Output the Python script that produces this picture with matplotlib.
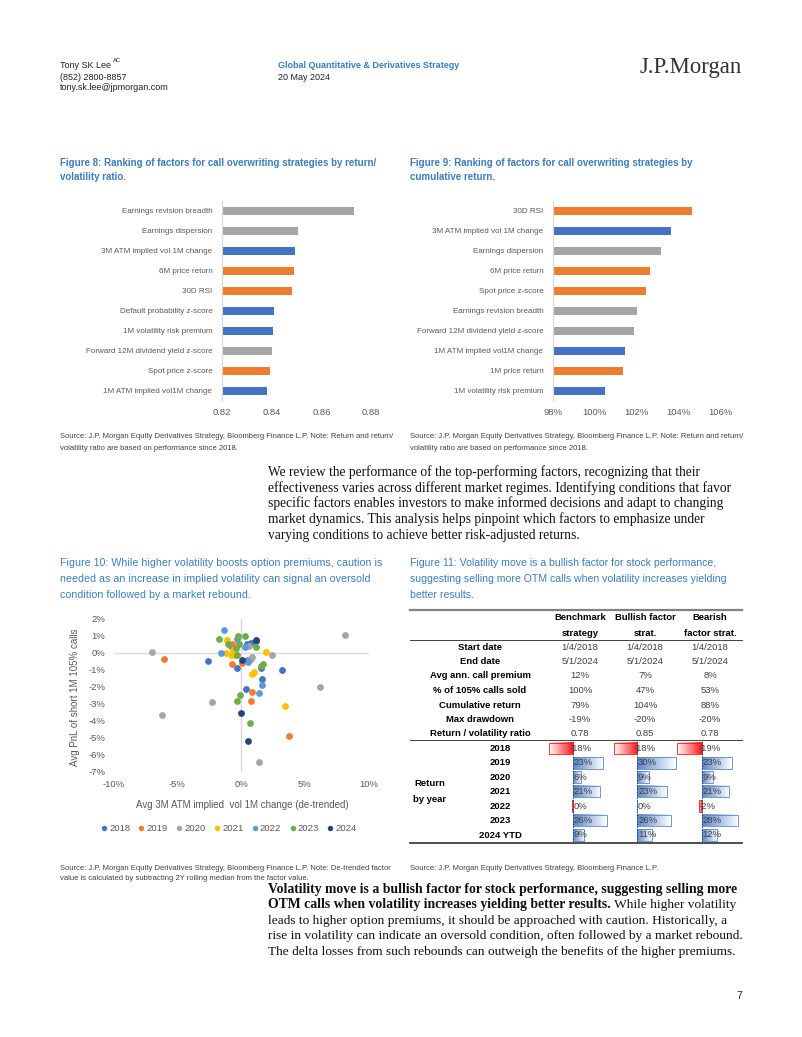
import numpy as np
import matplotlib
matplotlib.use("Agg")
import matplotlib.pyplot as plt
from matplotlib.colors import LinearSegmentedColormap
from matplotlib.patches import Rectangle

W, H = 802, 1037

SANS = ["Liberation Sans", "DejaVu Sans"]
SERIF = ["Liberation Serif", "DejaVu Serif"]

TITLE_BLUE = "#3d7dbd"
TICK_GREY = "#595959"
GROUP_COLORS = {"fundamental": "#a5a5a5", "volatility": "#4472c4", "price": "#ed7d31"}

# Figure 8: return / volatility ratio (top to bottom)
f8_labels = ["Earnings revision breadth", "Earnings dispersion", "3M ATM implied vol 1M change",
             "6M price return", "30D RSI", "Default probability z-score",
             "1M volatility risk premium", "Forward 12M dividend yield z-score",
             "Spot price z-score", "1M ATM implied vol1M change"]
f8_groups = ["fundamental", "fundamental", "volatility", "price", "price", "volatility",
             "volatility", "fundamental", "price", "volatility"]
f8_values = [0.8732, 0.8505, 0.8495, 0.8489, 0.8480, 0.8411, 0.8407, 0.8400, 0.8393, 0.8383]

# Figure 9: cumulative return, % (top to bottom)
f9_labels = ["30D RSI", "3M ATM implied vol 1M change", "Earnings dispersion", "6M price return",
             "Spot price z-score", "Earnings revision breadth", "Forward 12M dividend yield z-score",
             "1M ATM implied vol1M change", "1M price return", "1M volatility risk premium"]
f9_groups = ["price", "volatility", "fundamental", "price", "price", "fundamental",
             "fundamental", "volatility", "price", "volatility"]
f9_values = [104.66, 103.63, 103.17, 102.66, 102.45, 102.02, 101.90, 101.43, 101.36, 100.50]

# Figure 10: scatter, x = vol change (%), y = avg PnL (%)
scatter_years = ["2018", "2019", "2020", "2021", "2022", "2023", "2024"]
scatter_colors = ["#4472c4", "#ed7d31", "#a5a5a5", "#ffc000", "#5b9bd5", "#70ad47", "#264478"]
x2018 = [-2.56, -0.29, 1.57, 3.19, 1.62, 0.39, 1.2, 0.8, -0.8, 0.5]
y2018 = [-0.49, -0.86, -0.86, -0.98, -1.51, -2.14, 0.7, 0.6, 0.4, 0.5]
x2019 = [-6.02, -0.68, 0.05, 0.84, 0.78, 3.79, -0.7, -0.5]
y2019 = [-0.33, -0.67, -0.6, -2.3, -2.85, -4.88, 0.55, -0.1]
x2020 = [-6.98, 8.13, 2.4, 6.22, -2.25, -6.2, 1.39, 0.6, 0.9, 0.75]
y2020 = [0.04, 1.06, -0.1, -1.98, -2.87, -3.67, -6.41, 0.4, -0.25, -0.35]
x2021 = [-1.12, -1.2, -0.8, -0.5, 1.93, 1.0, 0.85, 3.42, -0.6]
y2021 = [0.75, 0.0, -0.1, 0.05, 0.08, -1.1, -1.25, -3.1, 0.2]
x2022 = [-1.31, -1.6, 0.58, 1.62, 1.41, -0.3, 0.3, 0.45]
y2022 = [1.34, 0.0, -0.53, -1.9, -2.36, 0.8, 0.35, -0.4]
x2023 = [-1.73, -1.0, -0.2, 0.31, 1.18, 1.7, -0.05, -0.34, 0.7, -0.4, -0.15, -0.3, 1.6]
y2023 = [0.84, 0.5, 1.0, 0.98, 0.35, -0.63, -2.46, -2.83, -4.15, 0.3, 0.5, -0.15, -0.75]
x2024 = [1.18, 0.08, 0.0, 0.58]
y2024 = [0.75, -0.39, -3.52, -5.17]
scatter_x = [x2018, x2019, x2020, x2021, x2022, x2023, x2024]
scatter_y = [y2018, y2019, y2020, y2021, y2022, y2023, y2024]

# Figure 11: table
table_columns = [("Benchmark", "strategy"), ("Bullish factor", "strat."), ("Bearish", "factor strat.")]
row_labels = ["Start date", "End date", "Avg ann. call premium", "% of 105% calls sold",
              "Cumulative return", "Max drawdown", "Return / volatility ratio"]
bench_stats = ["1/4/2018", "5/1/2024", "12%", "100%", "79%", "-19%", "0.78"]
bull_stats = ["1/4/2018", "5/1/2024", "7%", "47%", "104%", "-20%", "0.85"]
bear_stats = ["1/4/2018", "5/1/2024", "8%", "53%", "88%", "-20%", "0.78"]
years = ["2018", "2019", "2020", "2021", "2022", "2023", "2024 YTD"]
bench_ret = [-18, 23, 6, 21, -0.3, 26, 9]
bull_ret = [-18, 30, 9, 23, 0, 26, 11]
bear_ret = [-19, 23, 9, 21, -2, 28, 12]

fig = plt.figure(figsize=(W / 100, H / 100), dpi=100)
page = fig.add_axes([0, 0, 1, 1])
page.set_xlim(0, W)
page.set_ylim(H, 0)
page.axis("off")


def px_axes(left, top, right, bottom):
    return fig.add_axes([left / W, 1 - bottom / H, (right - left) / W, (bottom - top) / H])


def put(x, y, s, size, family=SANS, color="black", **kw):
    return page.text(x, y, s, fontsize=size, family=family, color=color, va="center", **kw)


def draw_header():
    name = put(60, 66, "Tony SK Lee", 6.5, color="#222222")
    page.annotate("AC", xy=(1, 1), xycoords=name, xytext=(1.5, 0.5), textcoords="offset points",
                  ha="left", va="center", fontsize=4.3, family=SANS, color="#222222")
    put(60, 77, "(852) 2800-8857", 6.5, color="#222222")
    put(60, 88, "tony.sk.lee@jpmorgan.com", 6.5, color="#222222")
    put(278, 66, "Global Quantitative & Derivatives Strategy", 6.5, color=TITLE_BLUE,
        weight="bold")
    put(278, 77, "20 May 2024", 6.5, color="#222222")
    put(640, 67, "J.P.Morgan", 16.4, family=SERIF, color="#333333")


def draw_ranking(box, labels, values, groups, xlim, ticks, ticklabels):
    ax = px_axes(*box)
    idx = np.arange(len(values))
    ax.barh(idx, values, height=0.36, color=[GROUP_COLORS[g] for g in groups])
    ax.set_xlim(*xlim)
    ax.set_ylim(len(values) - 0.5, -0.5)
    ax.set_yticks(idx)
    ax.set_yticklabels(labels, family=SANS, fontsize=5.75, color=TICK_GREY)
    ax.set_xticks(ticks)
    ax.set_xticklabels(ticklabels, family=SANS, fontsize=6.8, color=TICK_GREY)
    ax.tick_params(length=0)
    ax.tick_params(axis="y", pad=7)
    ax.tick_params(axis="x", pad=5)
    for side in ["top", "right", "bottom"]:
        ax.spines[side].set_visible(False)
    ax.spines["left"].set_color("#d9d9d9")
    ax.patch.set_visible(False)


def draw_scatter():
    ax = px_axes(113.5, 619, 368.5, 771.7)
    ax.axhline(0, color="#d9d9d9", lw=1, zorder=1)
    ax.axvline(0, color="#d9d9d9", lw=1, zorder=1)
    for yr, xs, ys, c in zip(scatter_years, scatter_x, scatter_y, scatter_colors):
        ax.scatter(xs, ys, s=24, color=c, label=yr, zorder=3, linewidths=0)
    ax.set_xlim(-10, 10)
    ax.set_ylim(-7, 2)
    ax.set_xticks(range(-10, 11, 5))
    ax.set_xticklabels([f"{v}%" for v in range(-10, 11, 5)], family=SANS, fontsize=6.8,
                       color=TICK_GREY)
    ax.set_yticks(range(-7, 3))
    ax.set_yticklabels([f"{v}%" for v in range(-7, 3)], family=SANS, fontsize=6.8,
                       color=TICK_GREY)
    ax.tick_params(length=0, pad=6)
    for side in ax.spines:
        ax.spines[side].set_visible(False)
    ax.patch.set_visible(False)
    ax.set_xlabel("Avg 3M ATM implied  vol 1M change (de-trended)", family=SANS, fontsize=7,
                  color=TICK_GREY)
    ax.xaxis.set_label_coords(0.504, -0.185)
    ax.set_ylabel("Avg PnL of short 1M 105% calls", family=SANS, fontsize=7, color=TICK_GREY)
    ax.yaxis.set_label_coords(-0.131, 0.49)
    leg = ax.legend(loc="center", bbox_to_anchor=(0.449, -0.369), ncol=7, frameon=False,
                    handletextpad=0.05, columnspacing=0.7, handlelength=1.0,
                    prop={"family": SANS, "size": 6.8}, markerscale=0.8)
    for t in leg.get_texts():
        t.set_color(TICK_GREY)


def draw_table():
    col_x = [580, 645, 710]
    page.plot([410, 742], [610, 610], color="#808080", lw=1.6)
    page.plot([410, 742], [640, 640], color="#404040", lw=0.7)
    page.plot([410, 742], [740, 740], color="#404040", lw=0.7)
    page.plot([410, 742], [843, 843], color="#404040", lw=1.3)
    for cx, (a, b) in zip(col_x, table_columns):
        put(cx, 617, a, 6.8, weight="bold", ha="center")
        put(cx, 634, b, 6.8, weight="bold", ha="center")
    row_y = 647 + 14.5 * np.arange(len(row_labels))
    for y, lab, s1, s2, s3 in zip(row_y, row_labels, bench_stats, bull_stats, bear_stats):
        put(480, y, lab, 6.8, weight="bold", ha="center")
        for cx, s in zip(col_x, [s1, s2, s3]):
            put(cx, y, s, 6.8, ha="center", color="#404040")
    year_y = 748.3 + 14.45 * np.arange(len(years))
    for y, yr in zip(year_y, years):
        put(500, y, yr, 6.8, weight="bold", ha="center")
    put(430, 783, "Return", 6.8, weight="bold", ha="center")
    put(430, 800, "by year", 6.8, weight="bold", ha="center")

    blue_cmap = LinearSegmentedColormap.from_list("pos", ["#5a86c8", "#ffffff"])
    red_cmap = LinearSegmentedColormap.from_list("neg", ["#ffffff", "#ff1a1a"])
    grad = np.linspace(0, 1, 128).reshape(1, -1)
    zeros = [572.7, 637.3, 701.7]
    scale = 1.3  # px per %
    for z, rets in zip(zeros, [bench_ret, bull_ret, bear_ret]):
        lo, hi = -26, 36
        ax = px_axes(z + lo * scale, 741.1, z + hi * scale, 842.2)
        for i, v in enumerate(rets):
            if v >= 0:
                ax.imshow(grad, cmap=blue_cmap, extent=(0, v, i + 0.4, i - 0.4), aspect="auto",
                          zorder=1)
                ax.add_patch(Rectangle((0, i - 0.4), v, 0.8, fill=False, ec="#5a86c8", lw=0.6))
            else:
                ax.imshow(grad, cmap=red_cmap, extent=(v, 0, i + 0.4, i - 0.4), aspect="auto",
                          zorder=1)
                ax.add_patch(Rectangle((v, i - 0.4), -v, 0.8, fill=False, ec="#ff1a1a", lw=0.6))
            r = int(round(v))
            ax.annotate(f"{r}%", (0, i), xytext=(-2.5 if r < 0 else 0.5, 0),
                        textcoords="offset points", ha="left", va="center",
                        fontsize=6.8, family=SANS, color="#404040", zorder=4)
        ax.axvline(0, color="#1f3864", lw=0.7, ls=(0, (1.5, 1.5)), zorder=3)
        ax.set_xlim(lo, hi)
        ax.set_ylim(len(rets) - 0.5, -0.5)
        ax.axis("off")


def draw_text():
    # figure titles
    put(60, 163, "Figure 8: Ranking of factors for call overwriting strategies by return/", 7.0,
        color=TITLE_BLUE, weight="bold")
    put(60, 177, "volatility ratio.", 7.0, color=TITLE_BLUE, weight="bold")
    put(410, 163, "Figure 9: Ranking of factors for call overwriting strategies by", 7.0,
        color=TITLE_BLUE, weight="bold")
    put(410, 177, "cumulative return.", 7.0, color=TITLE_BLUE, weight="bold")
    f10 = ["Figure 10: While higher volatility boosts option premiums, caution is",
           "needed as an increase in implied volatility can signal an oversold",
           "condition followed by a market rebound."]
    f11 = ["Figure 11: Volatility move is a bullish factor for stock performance,",
           "suggesting selling more OTM calls when volatility increases yielding",
           "better results."]
    for k, (a, b) in enumerate(zip(f10, f11)):
        put(60, 563 + 16 * k, a, 7.7, color=TITLE_BLUE)
        put(410, 563 + 16 * k, b, 7.6, color=TITLE_BLUE)

    src = "Source: J.P. Morgan Equity Derivatives Strategy, Bloomberg Finance L.P. Note: Return and return/"
    for x in [60, 410]:
        put(x, 437, src, 5.5, color="#404040")
        put(x, 448, "volatility ratio are based on performance since 2018.", 5.5, color="#404040")
    put(60, 868, "Source: J.P. Morgan Equity Derivatives Strategy, Bloomberg Finance L.P. Note: De-trended factor",
        5.5, color="#404040")
    put(60, 879, "value is calculated by subtracting 2Y rolling median from the factor value.", 5.5,
        color="#404040")
    put(410, 868, "Source: J.P. Morgan Equity Derivatives Strategy, Bloomberg Finance L.P.", 5.5,
        color="#404040")

    para1 = ["We review the performance of the top-performing factors, recognizing that their",
             "effectiveness varies across different market regimes. Identifying conditions that favor",
             "specific factors enables investors to make informed decisions and adapt to changing",
             "market dynamics. This analysis helps pinpoint which factors to emphasize under",
             "varying conditions to achieve better risk-adjusted returns."]
    for k, line in enumerate(para1):
        put(268, 472 + 15.8 * k, line, 9.75, family=SERIF, color="#111111")

    y0 = 889
    put(268, y0, "Volatility move is a bullish factor for stock performance, suggesting selling more",
        9.9, family=SERIF, color="#111111", weight="bold")
    bold = put(268, y0 + 15.8, "OTM calls when volatility increases yielding better results.", 9.9,
               family=SERIF, color="#111111", weight="bold")
    page.annotate(" While higher volatility", xy=(1, 0), xycoords=bold, va="bottom", ha="left",
                  fontsize=9.6, family=SERIF, color="#111111")
    para2 = ["leads to higher option premiums, it should be approached with caution. Historically, a",
             "rise in volatility can indicate an oversold condition, often followed by a market rebound.",
             "The delta losses from such rebounds can outweigh the benefits of the higher premiums."]
    for k, line in enumerate(para2):
        put(268, y0 + 15.8 * (k + 2), line, 9.6, family=SERIF, color="#111111")
    put(742, 996, "7", 7.5, color="#222222", ha="right")


draw_header()
draw_ranking((222, 201, 371, 401), f8_labels, f8_values, f8_groups, (0.82, 0.88),
             [0.82, 0.84, 0.86, 0.88], ["0.82", "0.84", "0.86", "0.88"])
draw_ranking((553, 201, 720, 401), f9_labels, f9_values, f9_groups, (98, 106),
             [98, 100, 102, 104, 106], ["98%", "100%", "102%", "104%", "106%"])
draw_scatter()
draw_table()
draw_text()

fig.savefig("out.png", dpi=100)
